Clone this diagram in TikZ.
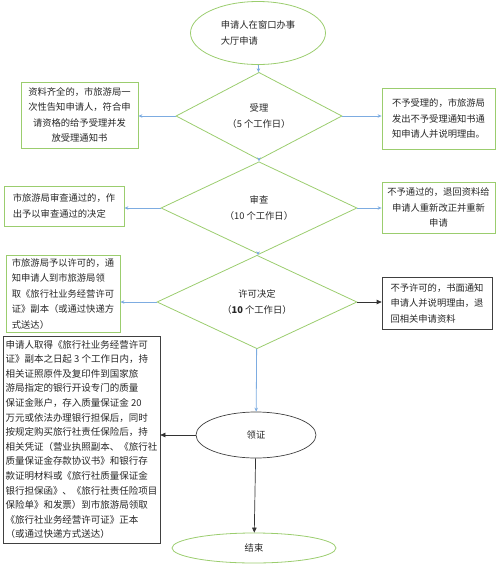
\documentclass[tikz,border=0pt]{standalone}
\usepackage{fontspec}
\setmainfont{Noto Sans CJK SC}
\usepackage{tikz}
\usetikzlibrary{arrows.meta,positioning,shapes.geometric}
\definecolor{boxgreen}{RGB}{155,205,110}
\definecolor{lineblue}{RGB}{125,172,225}

\begin{document}
\begin{tikzpicture}[x=1pt, y=-1pt,
  every node/.style={font=\fontsize{9.3}{15.5}\selectfont, inner sep=2pt, text=black!85},
  greenbox/.style={rectangle, draw=boxgreen, line width=0.8pt},
  blackbox/.style={rectangle, draw=black!75, line width=0.7pt},
  greenoval/.style={ellipse, draw=boxgreen, line width=0.8pt},
  blackoval/.style={ellipse, draw=black!75, line width=0.7pt},
  decision/.style={diamond, draw=boxgreen, line width=0.8pt, align=center, inner sep=0pt},
  bluearrow/.style={draw=lineblue, line width=0.8pt, -{Stealth[length=4pt,width=3.5pt]}},
  blackarrow/.style={draw=black!80, line width=0.7pt, -{Triangle[length=5pt,width=4.5pt]}}]
  \useasboundingbox (0,0) rectangle (500,566);

  % main line
  \node[greenoval, minimum width=135, minimum height=63, align=left] (apply) at (258,33) {申请人在窗口办事\\大厅申请};
  \node[decision, minimum width=166, minimum height=65] (accept) at (259,116) {受理\\（5 个工作日）};
  \node[decision, minimum width=196, minimum height=60] (review) at (259,208) {审查\\（10 个工作日）};
  \node[decision, minimum width=200, minimum height=62] (permit) at (257,302) {许可决定\\（\textbf{10} 个工作日）};
  \node[blackoval, minimum width=120, minimum height=46] (collect) at (256,435) {领证};
  \node[greenoval, minimum width=164, minimum height=30] (finish) at (254,548) {结束};

  % side boxes
  \node[greenbox, minimum width=117, minimum height=66, align=center] (acceptyes) at (79.5,115) {资料齐全的，市旅游局一\\次性告知申请人，符合申\\请资格的给予受理并发\\放受理通知书};
  \node[greenbox, minimum width=113, minimum height=61, align=left] (acceptno) at (438.5,118.5) {不予受理的，市旅游局\\发出不予受理通知书通\\知申请人并说明理由。};
  \node[greenbox, minimum width=120, minimum height=40, align=left] (reviewyes) at (64,206) {市旅游局审查通过的，作\\出予以审查通过的决定};
  \node[greenbox, minimum width=113, minimum height=51, align=center] (reviewno) at (438.5,207.5) {不予通过的，退回资料给\\申请人重新改正并重新\\申请};
  \node[greenbox, minimum width=114, minimum height=77, align=left] (permityes) at (63,293.5) {市旅游局予以许可的，通\\知申请人到市旅游局领\\取《旅行社业务经营许可\\证》副本（或通过快递方\\式送达）};
  \node[blackbox, minimum width=110, minimum height=52, align=left] (permitno) at (437,303) {不予许可的，书面通知\\申请人并说明理由，退\\回相关申请资料};
  \node[blackbox, minimum width=157, minimum height=207, align=left,
        font=\fontsize{9.5}{14.6}\selectfont] (collectinfo) at (81.5,439.5)
    {申请人取得《旅行社业务经营许可\\证》副本之日起 3 个工作日内，持\\相关证照原件及复印件到国家旅\\游局指定的银行开设专门的质量\\保证金账户，存入质量保证金 20\\万元或依法办理银行担保后，同时\\按规定购买旅行社责任保险后，持\\相关凭证（营业执照副本、《旅行社\\质量保证金存款协议书》和银行存\\款证明材料或《旅行社质量保证金\\银行担保函》、《旅行社责任险项目\\保险单》和发票）到市旅游局领取\\《旅行社业务经营许可证》正本\\（或通过快递方式送达）};

  \draw[bluearrow] (apply) -- (accept);
  \draw[bluearrow] (accept) -- (review);
  \draw[bluearrow] (review) -- (permit);
  \draw[bluearrow] (permit) -- (collect);
  \draw[blackarrow] (collect) -- (finish);

  \draw[bluearrow] (accept.west) -- (accept.west -| acceptyes.east);
  \draw[bluearrow] (accept.east) -- (accept.east -| acceptno.west);
  \draw[bluearrow] (review.west) -- (review.west -| reviewyes.east);
  \draw[bluearrow] (review.east) -- (review.east -| reviewno.west);
  \draw[bluearrow] (permit.west) -- (permit.west -| permityes.east);
  \draw[blackarrow] (permit.east) -- (permit.east -| permitno.west);
  \draw[blackarrow] (collect.west) -- (collect.west -| collectinfo.east);
\end{tikzpicture}
\end{document}
